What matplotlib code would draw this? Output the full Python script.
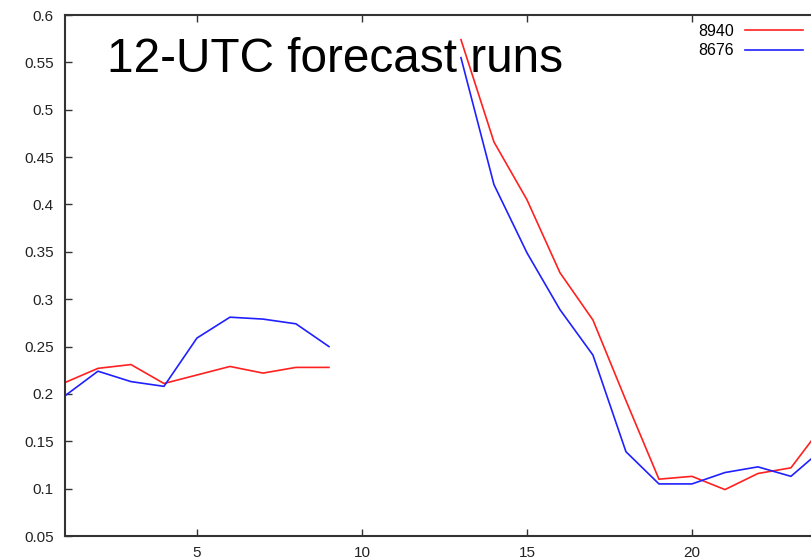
import numpy as np
import matplotlib.pyplot as plt
from matplotlib.ticker import FuncFormatter, MultipleLocator

plt.rcParams["font.family"] = ["Liberation Sans", "DejaVu Sans"]

# forecast hour index and scores for the two runs (no data for 10-12)
steps = list(range(1, 25))
run_8940 = [0.212, 0.227, 0.231, 0.211, 0.220, 0.229, 0.222, 0.228, 0.228,
            np.nan, np.nan, np.nan,
            0.574, 0.466, 0.405, 0.328, 0.278, 0.193, 0.110, 0.113, 0.099,
            0.116, 0.122, 0.168]
run_8676 = [0.198, 0.224, 0.213, 0.208, 0.259, 0.281, 0.279, 0.274, 0.250,
            np.nan, np.nan, np.nan,
            0.555, 0.421, 0.349, 0.289, 0.241, 0.139, 0.105, 0.105, 0.117,
            0.123, 0.113, 0.143]
run_labels = ["8940", "8676"]

fig = plt.figure(figsize=(8.12, 5.58), dpi=100)
ax = fig.add_axes([0.080, 0.0394, 0.9347, 0.9337])

ax.plot(steps, run_8940, color="#ff2020", lw=1.2, label=run_labels[0])
ax.plot(steps, run_8676, color="#2020ff", lw=1.2, label=run_labels[1])

ax.set_xlim(1, 24)
ax.set_ylim(0.05, 0.6)
ax.xaxis.set_major_locator(MultipleLocator(5))
ax.yaxis.set_major_locator(MultipleLocator(0.05))
ax.yaxis.set_major_formatter(FuncFormatter(lambda v, p: "%g" % round(v, 2)))

for side in ["left", "bottom", "top"]:
    ax.spines[side].set_color("#333333")
    ax.spines[side].set_linewidth(1.5)
ax.spines["right"].set_visible(False)

ax.tick_params(direction="in", length=5, width=1, color="#333333",
               top=True, labelsize=11, labelcolor="#222222")
ax.tick_params(axis="x", pad=7)
ax.tick_params(axis="y", pad=8)

fig.text(107 / 812, 1 - 72 / 558, "12-UTC forecast runs",
         fontsize=34.4, color="black", ha="left", va="baseline")

ax.legend(loc="upper right", bbox_to_anchor=(803 / 812, 1 - 24 / 558),
          bbox_transform=fig.transFigure, frameon=False, markerfirst=False,
          handlelength=3.6, handletextpad=0.7, labelspacing=0.28,
          borderaxespad=0, borderpad=0, fontsize=11.5)

fig.savefig("out.png", dpi=100)
plt.close(fig)
